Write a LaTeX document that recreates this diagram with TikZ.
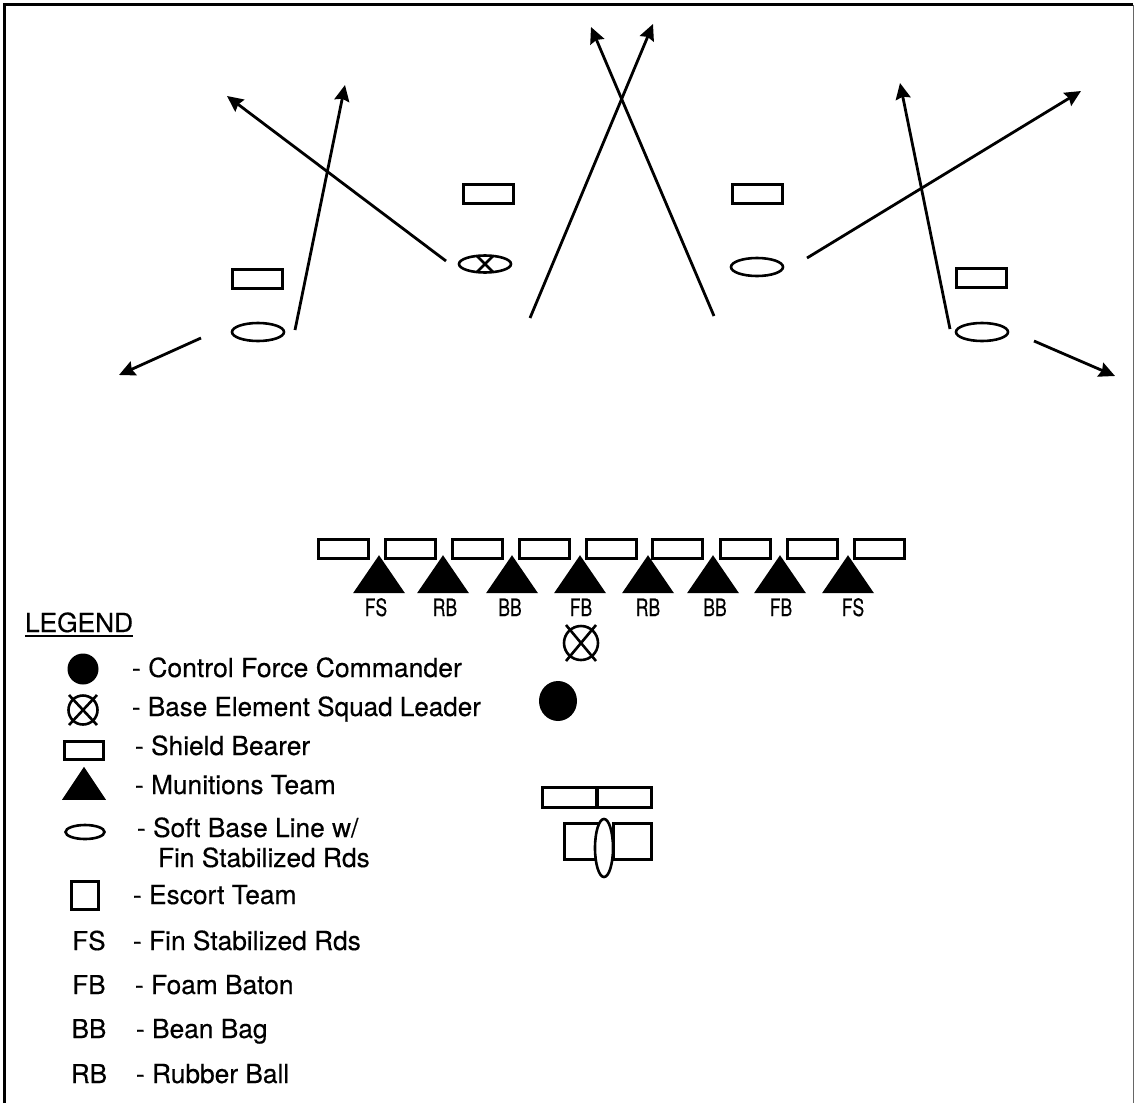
\documentclass[tikz,border=0pt]{standalone}
\usepackage{fontspec}
\setmainfont{TeX Gyre Heros}
\newfontfamily\heavyfont[FakeBold=0.35]{TeX Gyre Heros}
\usetikzlibrary{shapes.geometric,arrows.meta,calc}
\tikzset{
 x=1pt,y=-1pt,
 every node/.style={inner sep=0pt,outer sep=0pt},
 shield/.style={draw,line width=3pt,rectangle,minimum width=50pt,minimum height=19pt},
 soft/.style={draw,line width=2.6pt,ellipse,minimum width=52pt,minimum height=18pt},
 mun/.style={fill=black,isosceles triangle,isosceles triangle stretches,shape border rotate=90,minimum height=38pt,minimum width=52pt},
 escort/.style={draw,line width=3pt,rectangle,minimum width=30pt,minimum height=34pt},
 cmd/.style={fill=black,ellipse,minimum width=31pt,minimum height=31pt},
 leader/.style={draw,line width=2.6pt,circle,minimum size=29pt},
 route/.style={line width=2.8pt,-{Stealth[inset=2pt,length=16pt,width=15pt]}},
 legtxt/.style={font=\heavyfont\fontsize{26.3}{30}\selectfont,anchor=base west},
 tag/.style={font=\heavyfont\fontsize{24}{26}\selectfont,xscale=.73,anchor=base},
 abbr/.style={font=\heavyfont\fontsize{26}{30}\selectfont,anchor=base},
}
\newcommand{\xmark}[3]{\draw[line width=2.6pt] ($(#1)+(-#2,-#3)$) -- ($(#1)+(#2,#3)$) ($(#1)+(-#2,#3)$) -- ($(#1)+(#2,-#3)$);}
\begin{document}
\begin{tikzpicture}
\useasboundingbox (0,0) rectangle (1134,1103);
\draw[line width=3pt] (4.5,1103) -- (4.5,4.5) -- (1133,4.5);
\draw[line width=1pt,black!60] (1133,4.5) -- (1133,1103);
% top formation
\node[shield] (t1) at (257,279) {};
\node[soft] (e1) at (258,332) {};
\node[shield] (t2) at (488,194) {};
\node[soft,minimum height=17pt] (e2) at (485,264) {};
\xmark{e2}{8}{8}
\node[shield] (t3) at (757,194) {};
\node[soft] (e3) at (757,267) {};
\node[shield] (t4) at (981,278) {};
\node[soft] (e4) at (982,332) {};
\coordinate (a1s) at (201,338); \coordinate (a1e) at (119,375);
\coordinate (a2s) at (295,330); \coordinate (a2e) at (345,85);
\coordinate (a3s) at (446,261); \coordinate (a3e) at (227,96);
\coordinate (a4s) at (530,318); \coordinate (a4e) at (653,24);
\coordinate (a5s) at (714,316); \coordinate (a5e) at (591,27);
\coordinate (a6s) at (807,258); \coordinate (a6e) at (1081,91);
\coordinate (a7s) at (950,329); \coordinate (a7e) at (900,83);
\coordinate (a8s) at (1034,341); \coordinate (a8e) at (1115,376);
\foreach \i in {1,...,8} \draw[route] (a\i s) -- (a\i e);
% shield line
\foreach \i/\x in {1/343,2/410,3/477,4/544,5/611,6/677,7/745,8/812,9/879}
  \node[shield] (s\i) at (\x,549) {};
\foreach \i/\x/\t/\lx in {1/379/FS/376,2/443/RB/445,3/512/BB/510,4/580/FB/581,5/648/RB/648,6/713/BB/715,7/780/FB/781,8/848/FS/853}{
  \node[mun] (m\i) at (\x,579.5) {};
  \node[tag] (l\i) at (\lx,616) {\t};
}
\node[leader,minimum size=34pt] (bl) at (581,643) {};
\xmark{bl}{15}{18}
\node[cmd,minimum width=38pt,minimum height=40pt] (cc) at (558,701) {};
\node[shield,minimum width=54pt,minimum height=20pt] (b1) at (569.5,797) {};
\node[shield,minimum width=54pt,minimum height=20pt] (b2) at (624,797) {};
\node[escort,minimum width=36pt,minimum height=36pt] (b3) at (582,841) {};
\node[escort,minimum width=38pt,minimum height=36pt] (b4) at (632,841) {};
\node[soft,fill=white,minimum width=18pt,minimum height=58pt] (b5) at (604,848) {};
% legend
\node[legtxt] (lg) at (25,632) {LEGEND};
\draw[line width=2.2pt] ($(lg.base west)+(0,4)$) -- ($(lg.base east)+(0,4)$);
\node[cmd] (k1) at (83,669) {};
\node[leader] (k2) at (83,710) {};
\xmark{k2}{14}{15}
\node[shield,minimum width=39pt,minimum height=18pt] (k3) at (84,750) {};
\node[mun,minimum width=44pt,minimum height=33pt] (k4) at (84,788) {};
\node[soft,minimum width=39pt,minimum height=14pt] (k5) at (85,832) {};
\node[escort,minimum width=27pt,minimum height=28pt] (k6) at (85,895) {};
\node[abbr] (k7) at (89,950) {FS};
\node[abbr] (k8) at (89,994) {FB};
\node[abbr] (k9) at (89,1038) {BB};
\node[abbr] (k10) at (89,1083) {RB};
\node[legtxt,xscale=1.01] (d1) at (132,677) {- Control Force Commander};
\node[legtxt,xscale=.99] (d2) at (132,716) {- Base Element Squad Leader};
\node[legtxt] (d3) at (135,755) {- Shield Bearer};
\node[legtxt] (d4) at (135,794) {- Munitions Team};
\node[legtxt] (d5) at (137,837) {- Soft Base Line w/};
\node[legtxt] (d5b) at (158,867) {Fin Stabilized Rds};
\node[legtxt] (d6) at (133,904) {- Escort Team};
\node[legtxt] (d7) at (133,950) {- Fin Stabilized Rds};
\node[legtxt] (d8) at (135,994) {- Foam Baton};
\node[legtxt] (d9) at (136,1038) {- Bean Bag};
\node[legtxt] (d10) at (136,1083) {- Rubber Ball};
\end{tikzpicture}
\end{document}
